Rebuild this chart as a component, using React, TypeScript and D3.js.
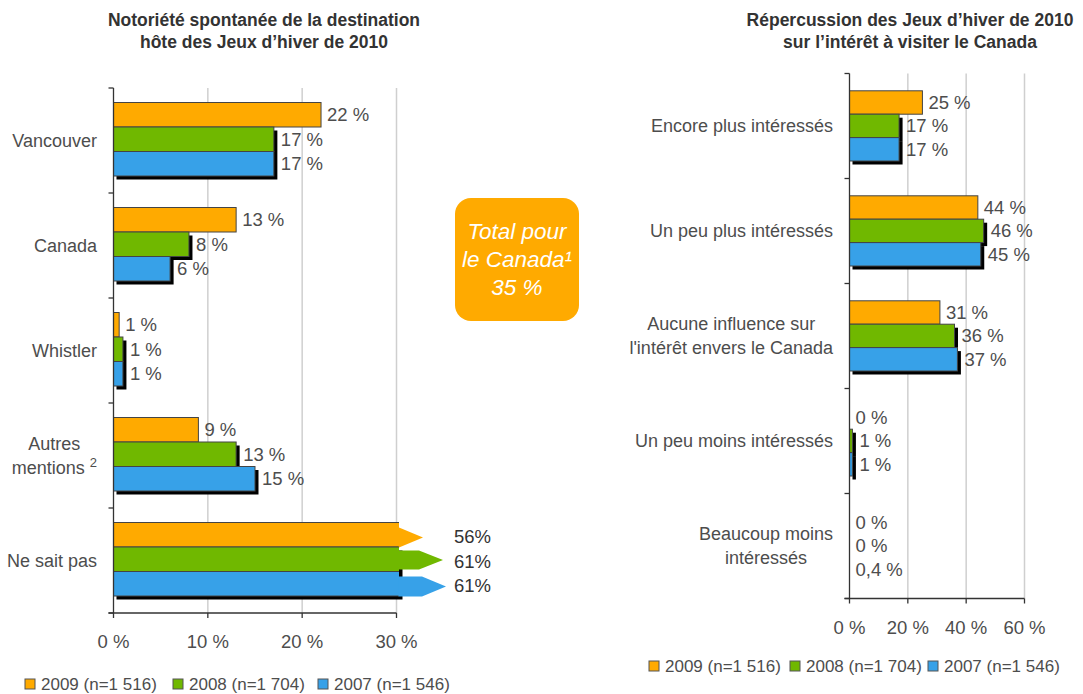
import React, { useEffect, useRef } from "react";
import * as d3 from "d3";

// series (same for both charts)
const seriesNames = ["2009 (n=1 516)", "2008 (n=1 704)", "2007 (n=1 546)"];
const seriesColors = ["#FFAA00", "#70B800", "#37A1E8"];

// left chart
const leftTitle = ["Notoriété spontanée de la destination", "hôte des Jeux d’hiver de 2010"];
const leftCategories = ["Vancouver", "Canada", "Whistler", "Autres\nmentions²", "Ne sait pas"];
const left2009 = [22, 13, 0.6, 9, 56];
const left2008 = [17, 8, 1, 13, 61];
const left2007 = [17, 6, 1, 15, 61];
const leftTicks = [0, 10, 20, 30];

// right chart
const rightTitle = ["Répercussion des Jeux d’hiver de 2010", "sur l’intérêt à visiter le Canada"];
const rightCategories = [
  "Encore plus intéressés",
  "Un peu plus intéressés",
  "Aucune influence sur\nl'intérêt envers le Canada",
  "Un peu moins intéressés",
  "Beaucoup moins\nintéressés",
];
const right2009 = [25, 44, 31, 0, 0];
const right2008 = [17, 46, 36, 1, 0];
const right2007 = [17, 45, 37, 1, 0.4];
const rightTicks = [0, 20, 40, 60];

// callout
const boxLines = ["Total pour", "le Canada¹", "35 %"];

const FONT = "'Liberation Sans', Arial, sans-serif";
const TEXT = "#4d4d4d";

function drawChart(svg, o) {
  const g = svg.append("g");
  const max = o.ticks[o.ticks.length - 1];
  const x = d3.scaleLinear().domain([0, max]).range(o.xRange);
  const y = d3.scaleBand().domain(o.cats).range(o.yRange);
  const x0 = x(0);
  const yb = o.yRange[1];
  const clipX = x(max) + 2.5;

  // title
  o.title.forEach((t, k) => {
    g.append("text")
      .attr("x", o.titleX)
      .attr("y", 26 + k * 22)
      .attr("text-anchor", "middle")
      .attr("font-size", 17.5)
      .attr("font-weight", "bold")
      .attr("fill", "#333")
      .text(t);
  });

  // grid
  g.selectAll(".grid")
    .data(o.ticks.slice(1))
    .join("line")
    .attr("x1", (d) => x(d))
    .attr("x2", (d) => x(d))
    .attr("y1", o.yRange[0])
    .attr("y2", yb)
    .attr("stroke", "#cfcfcf")
    .attr("stroke-width", 1.5);

  // shadows
  o.cats.forEach((c, i) => {
    o.values.forEach((vals, s) => {
      if (s === 0 || vals[i] < 0.5) return;
      const yTop = y(c) + o.barOffset + s * o.barH;
      const xe = Math.min(x(vals[i]), clipX);
      g.append("rect")
        .attr("x", x0 + 3)
        .attr("y", yTop + 3.5)
        .attr("width", Math.max(0, xe - x0 + 0.5))
        .attr("height", o.barH)
        .attr("fill", "#000");
    });
  });

  // bars, arrows and value labels
  const shaft = [0, 20, 23];
  o.cats.forEach((c, i) => {
    o.values.forEach((vals, s) => {
      const v = vals[i];
      const yTop = y(c) + o.barOffset + s * o.barH;
      const yBot = yTop + o.barH;
      const over = x(v) > clipX;
      const xe = over ? clipX : x(v);
      if (v >= 0.5 && !over) {
        g.append("rect")
          .attr("x", x0)
          .attr("y", yTop)
          .attr("width", xe - x0)
          .attr("height", o.barH)
          .attr("fill", seriesColors[s])
          .attr("stroke", "#444")
          .attr("stroke-width", 1);
      }
      if (over) {
        // clipped bar: no stroke on the cut edge
        g.append("rect")
          .attr("x", x0)
          .attr("y", yTop)
          .attr("width", xe - x0)
          .attr("height", o.barH)
          .attr("fill", seriesColors[s]);
        g.append("path")
          .attr("d", d3.line()([[xe, yTop], [x0, yTop], [x0, yBot], [xe, yBot]]))
          .attr("fill", "none")
          .attr("stroke", "#444")
          .attr("stroke-width", 1);
        const top = yTop + (s === 1 ? 3.5 : 5);
        const bot = yBot + (s === 1 ? -2 : 0.5);
        const sx = clipX + shaft[s];
        const tip = sx + 24;
        const mid = (top + bot) / 2;
        g.append("path")
          .attr("d", d3.line()([[clipX - 0.5, top], [sx, top], [tip, mid], [sx, bot], [clipX - 0.5, bot]]) + "Z")
          .attr("fill", seriesColors[s]);
        g.append("text")
          .attr("x", clipX + 55)
          .attr("y", (yTop + yBot) / 2 + 2)
          .attr("dy", "0.35em")
          .attr("font-size", 18.5)
          .attr("fill", "#333")
          .text(`${v}%`);
      } else {
        g.append("text")
          .attr("x", (v >= 0.5 ? xe : x0) + (s > 0 && v >= 0.5 ? 7 : 6))
          .attr("y", (yTop + yBot) / 2)
          .attr("dy", "0.35em")
          .attr("font-size", 18.5)
          .attr("fill", TEXT)
          .text(o.fmt(v));
      }
    });
  });

  // axes
  g.append("line")
    .attr("x1", x0).attr("x2", x0)
    .attr("y1", o.yRange[0]).attr("y2", yb)
    .attr("stroke", "#333").attr("stroke-width", 1.3);
  g.append("line")
    .attr("x1", x0 - 5).attr("x2", x(max))
    .attr("y1", yb).attr("y2", yb)
    .attr("stroke", "#333").attr("stroke-width", 1.3);
  d3.range(o.cats.length + 1).forEach((k) => {
    const yy = o.yRange[0] + k * y.step();
    g.append("line")
      .attr("x1", x0 - 5).attr("x2", x0)
      .attr("y1", yy).attr("y2", yy)
      .attr("stroke", "#333").attr("stroke-width", 1.3);
  });
  o.ticks.forEach((t) => {
    g.append("line")
      .attr("x1", x(t)).attr("x2", x(t))
      .attr("y1", yb).attr("y2", yb + 5)
      .attr("stroke", "#333").attr("stroke-width", 1.3);
    g.append("text")
      .attr("x", x(t))
      .attr("y", yb + 35)
      .attr("text-anchor", "middle")
      .attr("font-size", 18.5)
      .attr("fill", TEXT)
      .text(`${t} %`);
  });

  // category labels (multi-line blocks right aligned, lines centred)
  o.cats.forEach((c) => {
    const lines = c.split("\n");
    const cy = y(c) + y.bandwidth() / 2;
    const texts = lines.map((ln, k) => {
      const t = g.append("text")
        .attr("y", cy + (k - (lines.length - 1) / 2) * 24)
        .attr("dy", "0.35em")
        .attr("text-anchor", "middle")
        .attr("font-size", 18)
        .attr("fill", TEXT);
      if (ln.endsWith("²")) {
        t.append("tspan").text(ln.slice(0, -1) + " ");
        t.append("tspan").attr("font-size", 13).attr("dy", "-0.5em").text("2");
      } else {
        t.text(ln);
      }
      return t;
    });
    const w = d3.max(texts, (t) => t.node().getComputedTextLength());
    texts.forEach((t) => t.attr("x", o.labelX - w / 2));
  });

  // legend
  seriesNames.forEach((n, s) => {
    const lx = o.legendX[s];
    g.append("rect")
      .attr("x", lx).attr("y", o.legendY - 5)
      .attr("width", 10).attr("height", 10)
      .attr("fill", seriesColors[s])
      .attr("stroke", "#555").attr("stroke-width", 1);
    g.append("text")
      .attr("x", lx + 16).attr("y", o.legendY)
      .attr("dy", "0.35em")
      .attr("font-size", 17)
      .attr("fill", TEXT)
      .text(n);
  });
}

export default function App() {
  const ref = useRef(null);

  useEffect(() => {
    const svg = d3.select(ref.current);
    svg.selectAll("*").remove();

    drawChart(svg, {
      title: leftTitle,
      titleX: 264,
      cats: leftCategories,
      values: [left2009, left2008, left2007],
      ticks: leftTicks,
      xRange: [113.5, 396.5],
      yRange: [88, 613],
      barOffset: 14.5,
      barH: 24.5,
      labelX: 97,
      legendX: [25, 173, 318],
      legendY: 684,
      fmt: (v) => `${Math.round(v)} %`,
    });

    drawChart(svg, {
      title: rightTitle,
      titleX: 910,
      cats: rightCategories,
      values: [right2009, right2008, right2007],
      ticks: rightTicks,
      xRange: [849.5, 1024.5],
      yRange: [73.5, 598.5],
      barOffset: 17.3,
      barH: 23.4,
      labelX: 833,
      legendX: [649, 790, 928],
      legendY: 666,
      fmt: (v) => `${String(v).replace(".", ",")} %`,
    });

    // callout box
    const box = svg.append("g");
    box.append("rect")
      .attr("x", 455).attr("y", 198)
      .attr("width", 124).attr("height", 123)
      .attr("rx", 16)
      .attr("fill", "#FFAA00");
    boxLines.forEach((t, k) => {
      box.append("text")
        .attr("x", 517)
        .attr("y", 239 + k * 28)
        .attr("text-anchor", "middle")
        .attr("font-size", 22.5)
        .attr("font-style", "italic")
        .attr("fill", "#fff")
        .text(t);
    });
  }, []);

  return (
    <svg
      ref={ref}
      width={1083}
      height={694}
      style={{ position: "absolute", left: 0, top: 0, fontFamily: FONT, background: "#fff" }}
    />
  );
}
